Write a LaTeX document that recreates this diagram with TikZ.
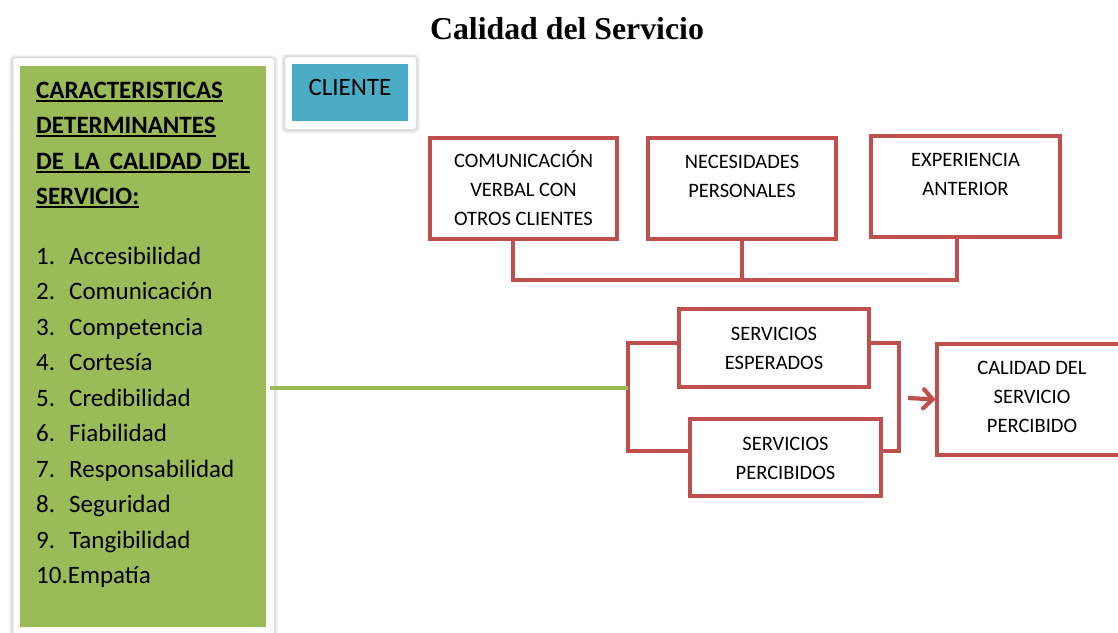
\documentclass[tikz,border=0pt]{standalone}
\usepackage{fontspec}
\setmainfont{Carlito}
\newfontfamily\titlefont{Liberation Serif}
\usetikzlibrary{arrows.meta,backgrounds,calc}
\definecolor{redc}{HTML}{C0504D}
\definecolor{greenc}{HTML}{9BBB59}
\definecolor{bluec}{HTML}{4BACC6}
\newcommand\myml[1]{\begin{tabular}[t]{@{}c@{}}#1\end{tabular}}
\newcommand\myul[1]{\setbox0\hbox{#1}\rlap{\rule[-3.6pt]{\wd0}{1.8pt}}\box0}
\begin{document}
\begin{tikzpicture}[x=1pt,y=-1pt,
  redbox/.style={draw=redc, line width=4.2pt, fill=white, inner sep=0pt, outer sep=0pt, rectangle},
  lbl/.style={anchor=base, inner sep=0pt, font=\fontsize{20.5}{29}\selectfont},
  head/.style={anchor=base west, inner sep=0pt, font=\bfseries\fontsize{25}{30}\selectfont},
  itemtxt/.style={anchor=base west, inner sep=0pt, font=\fontsize{25}{30}\selectfont},
  frame/.style={fill=white, draw=black!6, line width=0.5pt, inner sep=0pt, outer sep=0pt, rectangle, rounded corners=3pt},
  glow/.style={fill=black, opacity=0.035, rounded corners=5pt},
  redline/.style={draw=redc, line width=4.2pt},
  greenline/.style={draw=greenc, line width=3.5pt}]
\useasboundingbox (0,0) rectangle (1118,632);
\clip (0,0) rectangle (1118,632);

% title
\node[anchor=base, inner sep=0pt, font=\titlefont\bfseries\fontsize{31.8}{36}\selectfont] (title) at (567,39) {Calidad del Servicio};

% left green panel
\node[frame, minimum width=261, minimum height=600, anchor=north west] (gframe) at (13,58) {};
\node[fill=greenc, inner sep=0pt, outer sep=0pt, minimum width=246, minimum height=561, anchor=north west] (gbox) at (20,66) {};
\node[head] (h1) at (36,98) {\myul{CARACTERISTICAS}};
\node[head] (h2) at (36,133.5) {\myul{DETERMINANTES}};
\node[head] (h3) at (36,169) {\myul{\hbox to 214pt{DE\hfill LA\hfill CALIDAD\hfill DEL}}};
\node[head] (h4) at (36,204.5) {\myul{SERVICIO:}};
\foreach \i/\t in {1/Accesibilidad,2/Comunicación,3/Competencia,4/Cortesía,5/Credibilidad,6/Fiabilidad,7/Responsabilidad,8/Seguridad,9/Tangibilidad}{
  \node[itemtxt] (n\i) at (36,{264+35.5*(\i-1)}) {\i.};
  \node[itemtxt] (t\i) at (69,{264+35.5*(\i-1)}) {\t};
}
\node[itemtxt] (n10) at (36,{264+35.5*9}) {10.Empatía};

% cliente
\node[frame, minimum width=131, minimum height=72, anchor=north west] (cframe) at (285,57) {};
\node[fill=bluec, inner sep=0pt, outer sep=0pt, minimum width=116, minimum height=57, anchor=north west] (cli) at (292,64) {};
\node[itemtxt, anchor=base] (clit) at (350,95) {CLIENTE};

% soft shadows behind the white frames
\begin{scope}[on background layer]
  \foreach \k in {1,...,5}{
    \fill[glow] ($(gframe.north west)+(-\k*0.8,-\k*0.6)$) rectangle ($(gframe.south east)+(\k*0.8,\k*0.9)$);
    \fill[glow] ($(cframe.north west)+(-\k*0.8,-\k*0.6)$) rectangle ($(cframe.south east)+(\k*0.8,\k*0.9)$);
  }
\end{scope}

% top boxes
\node[redbox, minimum width=187, minimum height=101] (b1) at (523.5,188.5) {};
\node[redbox, minimum width=188, minimum height=101] (b2) at (742,188.5) {};
\node[redbox, minimum width=189, minimum height=101] (b3) at (965.5,186.5) {};
\node[lbl] (l1) at ([yshift=-29pt]b1.north) {\myml{COMUNICACIÓN\\VERBAL CON\\OTROS CLIENTES}};
\node[lbl] (l2) at ([yshift=-30pt]b2.north) {\myml{NECESIDADES\\PERSONALES}};
\node[lbl] (l3) at ([yshift=-30pt]b3.north) {\myml{EXPERIENCIA\\ANTERIOR}};

\coordinate (j) at (743,280);
\draw[redline] ([xshift=-10.5pt]b1.south) |- (j) -| ([xshift=-8.5pt]b3.south);
\draw[redline] (b2.south) -- (b2.south |- j);

% service boxes
\node[redbox, minimum width=190, minimum height=78] (se) at (774,348) {};
\node[redbox, minimum width=191, minimum height=77] (sp) at (785.5,457.5) {};
\node[redbox, minimum width=190, minimum height=111] (cal) at (1032,399.5) {};
\node[lbl] (lse) at ([yshift=-31pt]se.north) {\myml{SERVICIOS\\ESPERADOS}};
\node[lbl] (lsp) at ([yshift=-31pt]sp.north) {\myml{SERVICIOS\\PERCIBIDOS}};
\node[lbl] (lcal) at ([yshift=-30pt]cal.north) {\myml{CALIDAD DEL\\SERVICIO\\PERCIBIDO}};

\coordinate (lb) at (628,388);
\coordinate (rb) at (899,398);
\draw[redline] ([yshift=5pt]se.west) -| (lb) |- ([yshift=6.5pt]sp.west);
\draw[redline] ([yshift=5pt]se.east) -| (rb) |- ([yshift=6.5pt]sp.east);
\draw[redline, -{Straight Barb[length=9pt,width=19pt,line cap=round]}, shorten >=1.5pt] ([xshift=9pt]rb) -- (cal.west);

% green connector
\draw[greenline] ([xshift=4pt]gbox.east |- lb) -- (lb);
\end{tikzpicture}
\end{document}
